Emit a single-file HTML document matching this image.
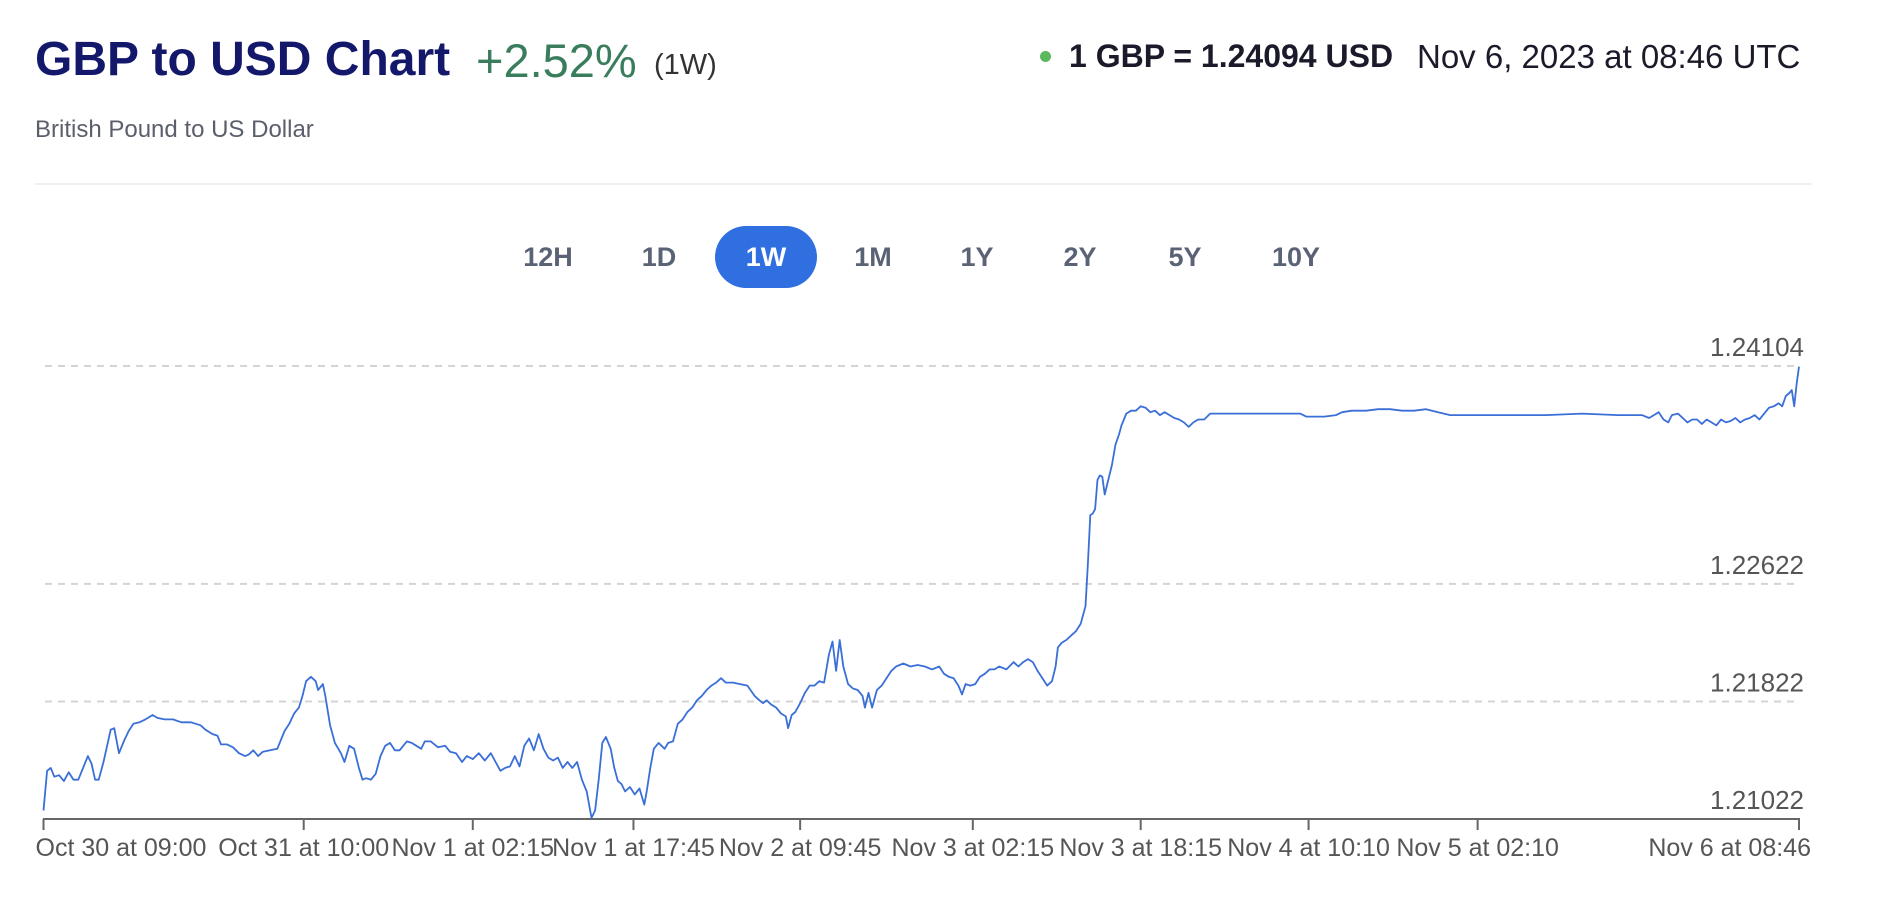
<!DOCTYPE html>
<html><head><meta charset="utf-8"><style>
body{margin:0;width:1880px;height:908px;background:#fff;font-family:"Liberation Sans",sans-serif;position:relative;overflow:hidden}
.a{position:absolute;white-space:nowrap}
.btn{position:absolute;top:226px;height:62px;line-height:62px;font-size:27px;font-weight:bold;color:#5a6275;text-align:center;transform:translateX(-50%)}
</style></head><body>
<div class="a" style="left:35px;top:32px;font-size:48px;font-weight:bold;color:#14186b">GBP to USD Chart</div>
<div class="a" style="left:476px;top:33px;font-size:47px;color:#3a7d5c">+2.52%</div>
<div class="a" style="left:654px;top:49px;font-size:29px;color:#333">(1W)</div>
<div class="a" style="left:1040px;top:51px;width:11px;height:11px;border-radius:50%;background:#5cb85c"></div>
<div class="a" style="left:1069px;top:38px;font-size:32px;font-weight:bold;color:#1a1a2a">1 GBP = 1.24094 USD</div>
<div class="a" style="left:1417px;top:38px;font-size:33px;color:#1a1a2a">Nov 6, 2023 at 08:46 UTC</div>
<div class="a" style="left:35px;top:116px;font-size:24px;color:#5a5f6b">British Pound to US Dollar</div>
<div class="a" style="left:35px;top:183px;width:1777px;height:2px;background:#eef0f2"></div>
<div class="a" style="left:715px;top:226px;width:102px;height:62px;border-radius:31px;background:#2f6fdf"></div>
<div class="btn" style="left:548px">12H</div>
<div class="btn" style="left:659px">1D</div>
<div class="btn" style="left:766px;color:#fff">1W</div>
<div class="btn" style="left:873px">1M</div>
<div class="btn" style="left:977px">1Y</div>
<div class="btn" style="left:1080px">2Y</div>
<div class="btn" style="left:1185px">5Y</div>
<div class="btn" style="left:1296px">10Y</div>
<svg id="chart" width="1880" height="908" style="position:absolute;left:0;top:0"></svg>
<script>
const yTicks=[1.24104,1.22622,1.21822,1.21022];
const xTickTimes=[0,217,358,492,631,775,915,1055,1196,1464];
const xTickLabels=["Oct 30 at 09:00","Oct 31 at 10:00","Nov 1 at 02:15","Nov 1 at 17:45","Nov 2 at 09:45","Nov 3 at 02:15","Nov 3 at 18:15","Nov 4 at 10:10","Nov 5 at 02:10","Nov 6 at 08:46"];
const sampleTime=[0,3,6,9,13,17,21,25,29,33,37,40,43,46,50,53,56,59,63,67,71,75,80,85,91,95,101,108,115,123,131,135,141,145,148,153,158,163,168,171,175,179,183,189,195,201,205,209,213,216,219,223,227,229,233,235,239,243,248,251,255,259,263,266,269,273,277,281,285,289,293,297,303,307,311,315,318,323,329,335,339,344,349,353,358,363,368,373,377,381,385,389,393,397,401,405,409,413,417,421,425,429,433,437,441,445,449,453,457,460,463,466,469,473,476,479,482,485,489,493,497,501,503,506,509,513,518,521,525,529,533,537,541,545,549,553,557,561,565,569,575,581,587,593,597,600,603,607,611,615,619,621,624,627,631,635,639,643,647,651,655,658,661,664,667,671,675,679,683,685,688,691,695,699,703,707,711,717,723,729,735,741,747,751,755,759,763,766,769,773,777,781,785,789,793,797,803,809,813,817,821,825,829,833,837,841,844,846,849,853,857,861,865,869,871,873,875,877,879,881,883,885,888,891,894,897,899,901,903,907,911,915,919,923,927,931,935,939,943,947,951,955,959,963,968,973,993,1013,1033,1048,1053,1058,1068,1078,1083,1091,1103,1113,1123,1133,1143,1153,1163,1173,1193,1223,1253,1283,1313,1333,1339,1343,1347,1351,1355,1358,1363,1367,1371,1375,1379,1383,1387,1391,1395,1399,1403,1407,1411,1415,1419,1423,1427,1431,1435,1439,1443,1447,1450,1453,1456,1458,1460,1462,1464];
const rateValues=[1.2108,1.2135,1.2137,1.2131,1.2132,1.2128,1.2134,1.2129,1.2129,1.2137,1.2145,1.2140,1.2129,1.2129,1.2141,1.2152,1.2163,1.2164,1.2147,1.2155,1.2162,1.2167,1.2168,1.2170,1.2173,1.2171,1.2170,1.2170,1.2168,1.2168,1.2166,1.2163,1.2160,1.2159,1.2153,1.2153,1.2151,1.2147,1.2145,1.2146,1.2149,1.2145,1.2148,1.2149,1.2150,1.2162,1.2167,1.2174,1.2178,1.2186,1.2196,1.2199,1.2196,1.2190,1.2194,1.2186,1.2166,1.2154,1.2147,1.2141,1.2152,1.2150,1.2137,1.2129,1.2130,1.2129,1.2133,1.2145,1.2152,1.2154,1.2149,1.2149,1.2155,1.2154,1.2152,1.2150,1.2155,1.2155,1.2151,1.2152,1.2148,1.2147,1.2141,1.2145,1.2143,1.2147,1.2142,1.2147,1.2141,1.2135,1.2137,1.2138,1.2145,1.2138,1.2152,1.2157,1.2149,1.2160,1.2150,1.2144,1.2142,1.2144,1.2137,1.2141,1.2137,1.2141,1.2129,1.2121,1.2103,1.2108,1.2129,1.2154,1.2158,1.2150,1.2137,1.2128,1.2126,1.2121,1.2124,1.2119,1.2123,1.2112,1.2121,1.2137,1.2150,1.2154,1.2150,1.2154,1.2155,1.2167,1.2170,1.2175,1.2178,1.2183,1.2186,1.2190,1.2193,1.2195,1.2198,1.2195,1.2195,1.2194,1.2193,1.2186,1.2183,1.2181,1.2183,1.2180,1.2178,1.2174,1.2172,1.2164,1.2173,1.2175,1.2181,1.2188,1.2193,1.2193,1.2196,1.2195,1.2214,1.2223,1.2203,1.2224,1.2206,1.2194,1.2191,1.2190,1.2186,1.2178,1.2188,1.2178,1.2190,1.2193,1.2198,1.2203,1.2206,1.2208,1.2206,1.2207,1.2206,1.2204,1.2206,1.2201,1.2199,1.2198,1.2193,1.2187,1.2194,1.2193,1.2194,1.2199,1.2201,1.2204,1.2204,1.2206,1.2204,1.2209,1.2206,1.2209,1.2211,1.2209,1.2203,1.2198,1.2193,1.2196,1.2206,1.2219,1.2222,1.2224,1.2227,1.2230,1.2235,1.2247,1.2276,1.2309,1.2310,1.2313,1.2333,1.2336,1.2335,1.2323,1.2333,1.2343,1.2357,1.2364,1.2370,1.2374,1.2378,1.2380,1.2380,1.2383,1.2382,1.2379,1.2380,1.2377,1.2379,1.2377,1.2375,1.2374,1.2372,1.2369,1.2372,1.2374,1.2374,1.2378,1.2378,1.2378,1.2378,1.2378,1.2376,1.2376,1.2376,1.2377,1.2379,1.2380,1.2380,1.2381,1.2381,1.2380,1.2380,1.2381,1.2379,1.2377,1.2377,1.2377,1.2377,1.2378,1.2377,1.2377,1.2375,1.2377,1.2379,1.2374,1.2372,1.2377,1.2378,1.2375,1.2372,1.2374,1.2374,1.2371,1.2374,1.2372,1.2370,1.2374,1.2372,1.2373,1.2375,1.2372,1.2374,1.2375,1.2377,1.2374,1.2378,1.2382,1.2383,1.2385,1.2383,1.2390,1.2392,1.2394,1.2383,1.2398,1.2410];
const NS='http://www.w3.org/2000/svg';
const svg=document.getElementById('chart');
const X0=43.5,X1=1799,T1=1464,Y0=366,V0=1.24104,K=14700;
function xs(t){return X0+(t/T1)*(X1-X0);}
function ys(v){return Y0+(V0-v)*K;}
function mk(tag,attrs){const e=document.createElementNS(NS,tag);for(const k in attrs)e.setAttribute(k,attrs[k]);svg.appendChild(e);return e;}
yTicks.forEach((v,i)=>{
  if(i<yTicks.length-1){
    const g=mk('line',{x1:45,x2:1795,y1:ys(v),y2:ys(v),stroke:'#d4d4d4','stroke-width':2,'stroke-dasharray':'7 6'});
    
    
  }
  const t=mk('text',{x:1804,y:ys(v)-10,'text-anchor':'end','font-size':26,fill:'#555','font-family':'Liberation Sans, sans-serif'});
  t.textContent=v.toFixed(5);
  
  
});
const ax=mk('line',{x1:43,x2:1800,y1:ys(1.21022),y2:ys(1.21022),stroke:'#666','stroke-width':2});


const axY=ys(1.21022);
xTickTimes.forEach((t,i)=>{
  const x=xs(t);
  const tk=mk('line',{x1:x,x2:x,y1:axY,y2:axY+11,stroke:'#666','stroke-width':2});
  
  
  const anchor=i===0?'start':(i===xTickTimes.length-1?'end':'middle');
  const lx=i===0?x-8:(i===xTickTimes.length-1?x+12:x);
  const lb=mk('text',{x:lx,y:axY+37,'text-anchor':anchor,'font-size':25,fill:'#555','font-family':'Liberation Sans, sans-serif'});
  lb.textContent=xTickLabels[i];
  
  
});
const d=sampleTime.map((t,i)=>(i?'L':'M')+xs(t).toFixed(1)+' '+ys(rateValues[i]).toFixed(1)).join(' ');
const p=mk('path',{d:d,fill:'none',stroke:'#3a6fd8','stroke-width':1.8,'stroke-linejoin':'round'});


</script>
</body></html>
